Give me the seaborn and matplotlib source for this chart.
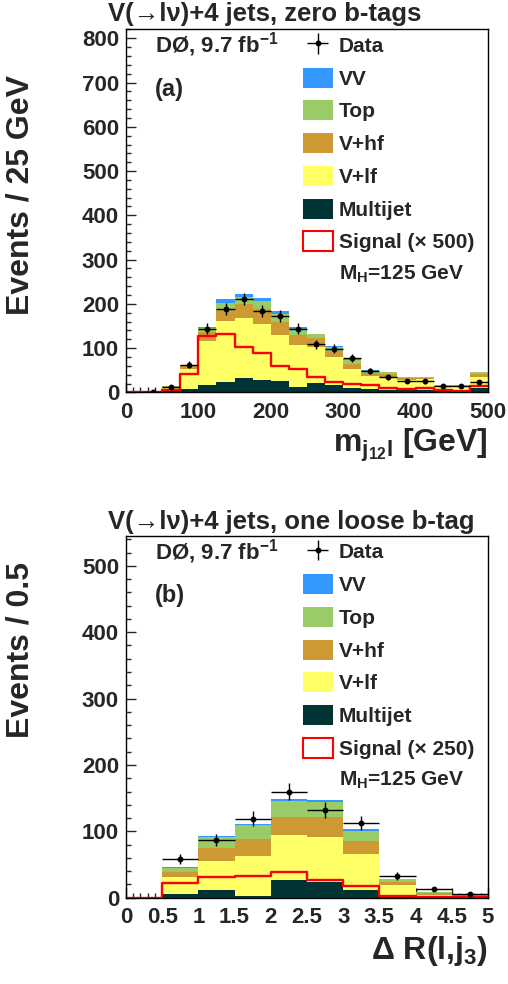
import numpy as np
import pandas as pd
import seaborn as sns
import matplotlib.pyplot as plt
from matplotlib.patches import Patch
from matplotlib.ticker import MultipleLocator

# ---- panel (a): m_{j12 l}, zero b-tags, 25 GeV bins ----
mjl_edges = np.arange(0, 525, 25)
mjl_multijet = [0, 0.3, 3, 8, 17, 24, 33, 28, 26, 13, 22, 17, 11, 8, 5, 6, 5, 3, 3, 11]
mjl_vlf = [0, 0.7, 7, 44, 100, 137, 134, 127, 104, 94, 81, 63, 43, 30, 30, 22, 25, 10, 10, 24]
mjl_vhf = [0, 0.3, 2.5, 8, 20, 27, 32, 33, 28, 23, 19, 14, 10, 6, 6, 4, 3, 2.5, 2.5, 7]
mjl_top = [0, 0.2, 1, 2, 8, 15, 16, 19, 20, 13, 9, 9, 9, 5, 5, 2.5, 1.5, 1, 1, 4]
mjl_vv = [0, 0.1, 0.5, 1, 2, 7, 8, 7, 6, 4, 2, 2, 2, 1, 1, 0.5, 0.5, 0.5, 0.5, 1]
mjl_data = [0, 1, 12, 63, 144, 188, 211, 185, 173, 144, 109, 99, 77, 48, 34, 26, 25, 15, 15, 24]
mjl_signal_x500 = [0, 0.5, 5, 41, 127, 133, 103, 90, 59, 52, 34, 23, 19, 17, 9, 8, 9, 5, 3, 15]

# ---- panel (b): dR(l, j3), one loose b-tag, 0.5 bins ----
dr_edges = np.arange(0, 5.5, 0.5)
dr_multijet = [0, 5.5, 12, 3, 26, 23, 12, 4.5, 1, 0.5]
dr_vlf = [0, 25, 44, 60, 69, 68, 53.5, 14, 3.5, 2.5]
dr_vhf = [0, 8.5, 19.5, 25, 26, 30, 20.5, 4.5, 2, 1]
dr_top = [0, 6, 15.5, 21, 24.5, 23.5, 14, 5, 1.5, 0.5]
dr_vv = [0, 2, 2, 2, 3.5, 3, 3, 0.5, 0.2, 0.1]
dr_data = [0, 58, 87, 119, 160, 132, 113, 33, 13, 6]
dr_signal_x250 = [0, 22, 31, 32, 39, 26, 18, 3, 1, 0.5]

processes = ["VV", "Top", "V+hf", "V+lf", "Multijet"]
colors = {"VV": "#3399ff", "Top": "#99cc66", "V+hf": "#cc9933",
          "V+lf": "#ffff66", "Multijet": "#003333"}

sns.set_style("ticks")
plt.rcParams['font.family'] = ['Liberation Sans', 'DejaVu Sans']
plt.rcParams['font.weight'] = 'bold'
plt.rcParams['axes.labelweight'] = 'bold'
plt.rcParams['mathtext.fontset'] = 'custom'
plt.rcParams['mathtext.rm'] = 'Liberation Sans:bold'
plt.rcParams['mathtext.default'] = 'rm'


def draw_panel(ax, edges, comps, data, signal, sig_label, ylim, major_x, minor_x):
    centers = (edges[:-1] + edges[1:]) / 2
    half = (edges[1] - edges[0]) / 2
    rows = []
    for name, vals in zip(processes, comps):
        for c, v in zip(centers, vals):
            rows.append({"x": c, "w": v, "process": name})
    df = pd.DataFrame(rows)
    bins = list(edges)
    # stacked backgrounds (first hue level ends up on top)
    sns.histplot(data=df, x="x", weights="w", hue="process", hue_order=processes,
                 palette=colors, bins=bins, multiple="stack", element="bars",
                 alpha=1, linewidth=0, legend=False, ax=ax)
    sig_df = pd.DataFrame({"x": centers, "w": signal})
    sns.histplot(data=sig_df, x="x", weights="w", bins=bins, element="step",
                 fill=False, color="red", linewidth=1.7, ax=ax)
    data = np.array(data, dtype=float)
    m = data > 0
    eb = ax.errorbar(centers[m], data[m], yerr=np.sqrt(data[m]), xerr=half,
                     fmt='o', ms=3.2, color='black', elinewidth=1, capsize=0)

    ax.set_xlim(edges[0], edges[-1])
    ax.set_ylim(*ylim)
    ax.xaxis.set_major_locator(MultipleLocator(major_x))
    ax.xaxis.set_minor_locator(MultipleLocator(minor_x))
    ax.yaxis.set_major_locator(MultipleLocator(100))
    ax.yaxis.set_minor_locator(MultipleLocator(20))
    ax.tick_params(which='both', direction='in', top=False, right=False, width=1)
    ax.tick_params(which='major', length=7, labelsize=16)
    ax.tick_params(which='minor', length=3.5)
    ax.tick_params(axis='x', pad=7)
    ax.tick_params(axis='y', pad=5)
    for s in ax.spines.values():
        s.set_linewidth(1)
        s.set_color('black')

    handles = [eb] + [Patch(facecolor=colors[p], edgecolor='none') for p in processes]
    handles.append(Patch(facecolor='white', edgecolor='red', linewidth=1.5))
    labels = ["Data"] + processes + [sig_label]
    ax.legend(handles, labels, loc='upper left', bbox_to_anchor=(0.488, 0.985),
              frameon=False, fontsize=15, handlelength=1.45, handleheight=1.1,
              handletextpad=0.3, labelspacing=0.56, borderpad=0, borderaxespad=0)
    ax.text(0.588, 0.325, "M$_H$=125 GeV", transform=ax.transAxes,
            fontsize=15, ha='left', va='center')


fig = plt.figure(figsize=(5.08, 9.84), dpi=100)
ax1 = fig.add_axes([0.248, 0.6012, 0.7126, 0.3689])
ax2 = fig.add_axes([0.248, 0.0877, 0.7126, 0.3676])

draw_panel(ax1, mjl_edges,
           [mjl_vv, mjl_top, mjl_vhf, mjl_vlf, mjl_multijet],
           mjl_data, mjl_signal_x500, "Signal (× 500)", (0, 820), 100, 10)
draw_panel(ax2, dr_edges,
           [dr_vv, dr_top, dr_vhf, dr_vlf, dr_multijet],
           dr_data, dr_signal_x250, "Signal (× 250)", (0, 545), 0.5, 0.1)

ax2.xaxis.set_major_formatter(plt.FuncFormatter(lambda v, p: f"{v:g}"))

for ax, tag in [(ax1, "(a)"), (ax2, "(b)")]:
    ax.text(0.08, 0.957, "DØ, 9.7 fb$^{-1}$", transform=ax.transAxes,
            fontsize=16, ha='left', va='center')
    ax.text(0.08, 0.835, tag, transform=ax.transAxes,
            fontsize=17, ha='left', va='center')

ax1.set_xlabel("m$_{j_{12}l}$ [GeV]", fontsize=23, loc='right')
ax1.xaxis.set_label_coords(1.0, -0.095)
ax2.set_xlabel("Δ R(l,j$_3$)", fontsize=23, loc='right')
ax2.xaxis.set_label_coords(1.0, -0.1)
ax1.set_ylabel("Events / 25 GeV", fontsize=23, loc='top')
ax1.yaxis.set_label_coords(-0.25, 0.874)
ax2.set_ylabel("Events / 0.5", fontsize=23, loc='top')
ax2.yaxis.set_label_coords(-0.25, 0.928)

fig.text(0.213, 0.9858, "V(→lν)+4 jets, zero b-tags", fontsize=18.5,
         ha='left', va='center')
fig.text(0.213, 0.4695, "V(→lν)+4 jets, one loose b-tag", fontsize=18.5,
         ha='left', va='center')

fig.savefig("out.png", dpi=100)
